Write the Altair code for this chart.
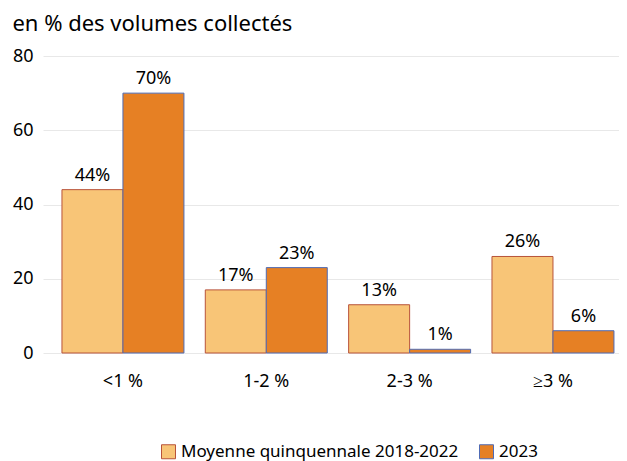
import altair as alt
import pandas as pd

categories = ["<1 %", "1-2 %", "2-3 %", "≥3 %"]
series_names = ["Moyenne quinquennale 2018-2022", "2023"]
avg_values = [44, 17, 13, 26]
y2023_values = [70, 23, 1, 6]

rows = []
for c, a, b in zip(categories, avg_values, y2023_values):
    rows.append({"cat": c, "serie": series_names[0], "val": a, "lab": f"{a}%"})
    rows.append({"cat": c, "serie": series_names[1], "val": b, "lab": f"{b}%"})
df = pd.DataFrame(rows)

FONT = "Noto Sans"
fills = ["#F8C577", "#E68024"]
strokes = ["#B8533A", "#4F6BB5"]

x = alt.X("cat:N", sort=categories, title=None,
          scale=alt.Scale(paddingInner=0.149, paddingOuter=0.0837, align=0.79),
          axis=alt.Axis(labelAngle=0, domain=False, ticks=False, labelPadding=19,
                        labelFontSize=18, labelFont=FONT, labelColor="#000000"))
xo = alt.XOffset("serie:N", sort=series_names)
y = alt.Y("val:Q", title=None, scale=alt.Scale(domain=[0, 80]),
          axis=alt.Axis(values=[0, 20, 40, 60, 80], domain=False, ticks=False,
                        labelPadding=10, labelFontSize=18, labelFont=FONT,
                        labelColor="#000000", gridColor="#e8e8e8"))

bars = alt.Chart(df).mark_bar(strokeWidth=1).encode(
    x=x, xOffset=xo, y=y,
    color=alt.Color("serie:N", sort=series_names,
                    scale=alt.Scale(domain=series_names, range=fills),
                    legend=alt.Legend(title=None, orient="none", direction="horizontal",
                                      legendX=117, legendY=387, symbolType="square",
                                      symbolSize=196, symbolStrokeWidth=1,
                                      labelFontSize=17, labelFont=FONT, labelColor="#000000",
                                      labelLimit=0, columnPadding=18, symbolOpacity=1)),
    stroke=alt.Stroke("serie:N", sort=series_names,
                      scale=alt.Scale(domain=series_names, range=strokes), legend=None),
)

texts = alt.Chart(df).mark_text(dy=-14, fontSize=18, font=FONT, color="#000000").encode(
    x=x, xOffset=xo, y=y, text="lab:N"
)

chart = (bars + texts).properties(
    width=576, height=297,
    title=alt.TitleParams("en % des volumes collectés", anchor="start", frame="bounds",
                          fontSize=22, fontWeight="normal", font=FONT, color="#000000",
                          offset=11),
    padding={"left": 4, "top": 5, "right": 0, "bottom": 0},
).configure_view(stroke=None)

chart.save("out.html", embed_options={"renderer": "svg", "actions": False})
